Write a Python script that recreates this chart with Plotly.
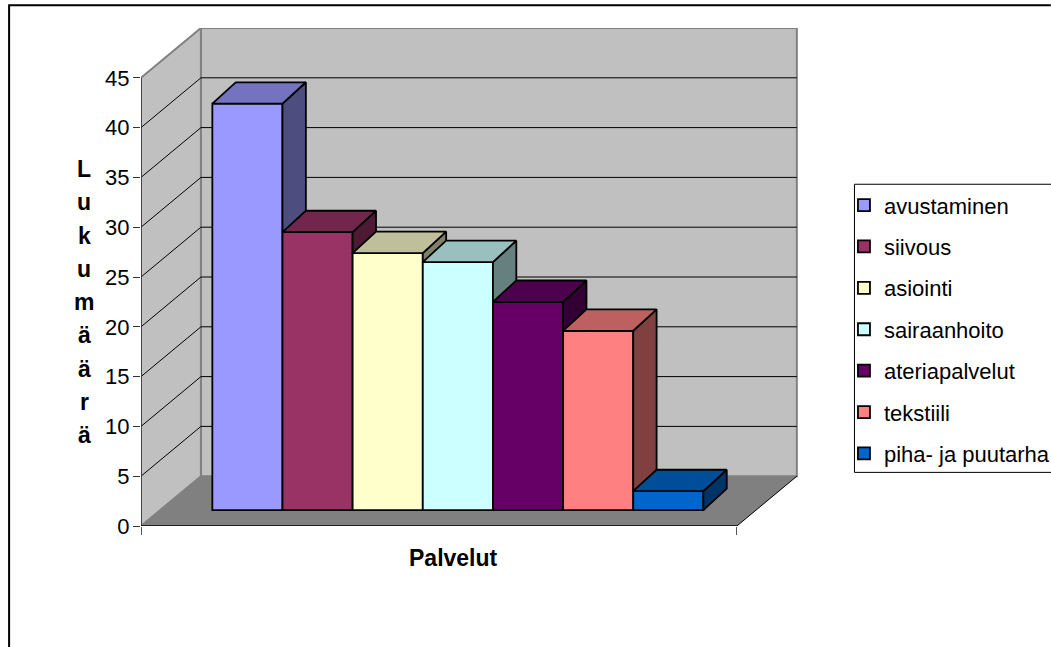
import plotly.graph_objects as go

# Services and how many times each was mentioned
services = ["avustaminen", "siivous", "asiointi", "sairaanhoito", "ateriapalvelut", "tekstiili", "piha- ja puutarha"]
counts = [40.8, 27.9, 25.8, 24.9, 20.9, 18.0, 1.9]
front_colors = ["#9999FF", "#993366", "#FFFFCC", "#CCFFFF", "#660066", "#FF8080", "#0066CC"]
top_colors = ["#7373BF", "#73264D", "#BFBF99", "#99BFBF", "#4D004D", "#BF6060", "#004D99"]
side_colors = ["#4D4D80", "#4D1933", "#808066", "#668080", "#330033", "#804040", "#003366"]
value_ticks = [0, 5, 10, 15, 20, 25, 30, 35, 40, 45]
y_title_letters = ["L", "u", "k", "u", "m", "ä", "ä", "r", "ä"]

FONT = "Liberation Sans"
WIDTH, HEIGHT = 1051, 647

# Plot area in page pixels
PX_LEFT, PX_RIGHT = 140.5, 800.0
PX_Y0, PX_PER_VALUE = 525.6, 9.956
PX_PER_BAR = 70.2

# Oblique box: full depth of the chart expressed in axis units
DEPTH_X, DEPTH_Y = 60.0 / PX_PER_BAR, 5.0
Y_TOP = 50.0
X_MIN = -1.517
X_MAX = X_MIN + (PX_RIGHT - PX_LEFT) / PX_PER_BAR
FLOOR_RIGHT = 6.978

# Where the bars sit inside the box (0 = front, 1 = back)
BAR_BASE = 0.32 * DEPTH_Y
BAR_DX, BAR_DY = 0.39 * DEPTH_X, 0.43 * DEPTH_Y


def paper_x(px):
    return (px - PX_LEFT) / (PX_RIGHT - PX_LEFT)


def paper_y(py):
    top = PX_Y0 - Y_TOP * PX_PER_VALUE
    return 1 - (py - top) / (PX_Y0 - top)


def path(points):
    return "M" + " L".join(f"{x:.4f},{y:.4f}" for x, y in points) + " Z"


fig = go.Figure()

shapes = []
WALL_EDGE = dict(color="#808080", width=2)
# Left wall, back wall, floor
shapes.append(dict(type="path", xref="x", yref="y", layer="below", fillcolor="#C0C0C0", line=WALL_EDGE,
                   path=path([(X_MIN, 0), (X_MIN + DEPTH_X, DEPTH_Y), (X_MIN + DEPTH_X, 45 + DEPTH_Y), (X_MIN, 45)])))
shapes.append(dict(type="path", xref="x", yref="y", layer="below", fillcolor="#C0C0C0", line=WALL_EDGE,
                   path=path([(X_MIN + DEPTH_X, DEPTH_Y), (FLOOR_RIGHT + DEPTH_X, DEPTH_Y),
                              (FLOOR_RIGHT + DEPTH_X, 45 + DEPTH_Y), (X_MIN + DEPTH_X, 45 + DEPTH_Y)])))
shapes.append(dict(type="path", xref="x", yref="y", layer="below", fillcolor="#808080", line=dict(width=0),
                   path=path([(X_MIN, 0), (FLOOR_RIGHT, 0), (FLOOR_RIGHT + DEPTH_X, DEPTH_Y), (X_MIN + DEPTH_X, DEPTH_Y)])))

# Gridlines run along the left wall, then across the back wall
for v in value_ticks[1:-1]:
    shapes.append(dict(type="path", xref="x", yref="y", layer="below", line=dict(color="#000000", width=1),
                       path=f"M{X_MIN},{v} L{X_MIN + DEPTH_X},{v + DEPTH_Y} L{FLOOR_RIGHT + DEPTH_X},{v + DEPTH_Y}"))

# Axis lines and floor edge
shapes.append(dict(type="line", xref="x", yref="y", layer="below", x0=X_MIN, x1=X_MIN, y0=0, y1=45,
                   line=dict(color="#333333", width=1.5)))
shapes.append(dict(type="line", xref="x", yref="y", layer="below", x0=X_MIN, x1=FLOOR_RIGHT, y0=0, y1=0,
                   line=dict(color="#000000", width=1.5)))
shapes.append(dict(type="line", xref="x", yref="y", layer="below", x0=FLOOR_RIGHT, x1=FLOOR_RIGHT + DEPTH_X,
                   y0=0, y1=DEPTH_Y, line=dict(color="#000000", width=1)))

# Chart frame, open towards the right and bottom of the page
shapes.append(dict(type="path", xref="paper", yref="paper", layer="below", line=dict(color="#000000", width=2),
                   path=f"M{paper_x(8.5)},{paper_y(647)} L{paper_x(8.5)},{paper_y(5)} L{paper_x(1051)},{paper_y(5)}"))
# Legend box
shapes.append(dict(type="path", xref="paper", yref="paper", layer="below", line=dict(color="#000000", width=1),
                   fillcolor="#FFFFFF",
                   path=f"M{paper_x(1052)},{paper_y(184)} L{paper_x(854.5)},{paper_y(184)} "
                        f"L{paper_x(854.5)},{paper_y(472)} L{paper_x(1052)},{paper_y(472)}"))

# Front faces of the bars
for i, (name, value, color) in enumerate(zip(services, counts, front_colors)):
    fig.add_trace(go.Bar(x=[i], y=[value], base=[BAR_BASE], width=1, name=name, legendgroup=name,
                         marker=dict(color=color, line=dict(color="#000000", width=1.8)), hoverinfo="name+y"))

# Side and top faces, left to right so that each bar hides the one before it.
# A side face stops where the next bar's front begins, because the fronts are a lower layer.
for i, value in enumerate(counts):
    left = i - 0.5
    right = i + 0.5
    top = BAR_BASE + value
    face_line = dict(color="#000000", width=1.8)
    side_x = [right, right + BAR_DX, right + BAR_DX, right, right]
    if i + 1 < len(counts):
        next_top = BAR_BASE + counts[i + 1]
        side_y = [top, top + BAR_DY, next_top, next_top, top]
    else:
        side_y = [top, top + BAR_DY, BAR_BASE + BAR_DY, BAR_BASE, top]
    fig.add_trace(go.Scatter(x=side_x, y=side_y, mode="lines", fill="toself", fillcolor=side_colors[i],
                             line=face_line, showlegend=False, hoverinfo="skip"))
    top_x = [left, right, right + BAR_DX, left + BAR_DX, left]
    top_y = [top, top, top + BAR_DY, top + BAR_DY, top]
    fig.add_trace(go.Scatter(x=top_x, y=top_y, mode="lines", fill="toself", fillcolor=top_colors[i],
                             line=face_line, showlegend=False, hoverinfo="skip"))

# Axis titles; the vertical one is stacked letter by letter
title_font = dict(family=FONT, size=23, color="#000000")
annotations = [dict(text="<b>Palvelut</b>", xref="paper", yref="paper", x=paper_x(453.5), y=paper_y(558),
                    xanchor="center", yanchor="middle", showarrow=False, font=title_font)]
for n, letter in enumerate(y_title_letters):
    annotations.append(dict(text=f"<b>{letter}</b>", xref="paper", yref="paper", x=paper_x(83.5),
                            y=paper_y(169 + n * 33.2), xanchor="center", yanchor="middle",
                            showarrow=False, font=title_font))

fig.update_layout(
    width=WIDTH, height=HEIGHT,
    margin=dict(l=PX_LEFT, r=WIDTH - PX_RIGHT, t=PX_Y0 - Y_TOP * PX_PER_VALUE, b=HEIGHT - PX_Y0, pad=0, autoexpand=False),
    paper_bgcolor="#FFFFFF", plot_bgcolor="rgba(0,0,0,0)",
    barmode="overlay",
    font=dict(family=FONT, color="#000000"),
    shapes=shapes, annotations=annotations,
    xaxis=dict(range=[X_MIN, X_MAX], showgrid=False, zeroline=False, showticklabels=False,
               tickmode="array", tickvals=[X_MIN, FLOOR_RIGHT], ticks="outside", ticklen=8, tickwidth=1,
               tickcolor="#555555"),
    yaxis=dict(range=[0, Y_TOP], showgrid=False, zeroline=False, tickmode="array", tickvals=value_ticks,
               ticks="outside", ticklen=7, tickwidth=1, tickcolor="#333333", ticklabelstandoff=-1,
               tickfont=dict(family=FONT, size=22)),
    legend=dict(x=paper_x(851), xanchor="left", y=paper_y(184), yanchor="top", borderwidth=0,
                bgcolor="rgba(0,0,0,0)", traceorder="grouped", tracegroupgap=9.8, indentation=-7,
                font=dict(family=FONT, size=22, color="#000000")),
)

fig.write_html("out.html")
